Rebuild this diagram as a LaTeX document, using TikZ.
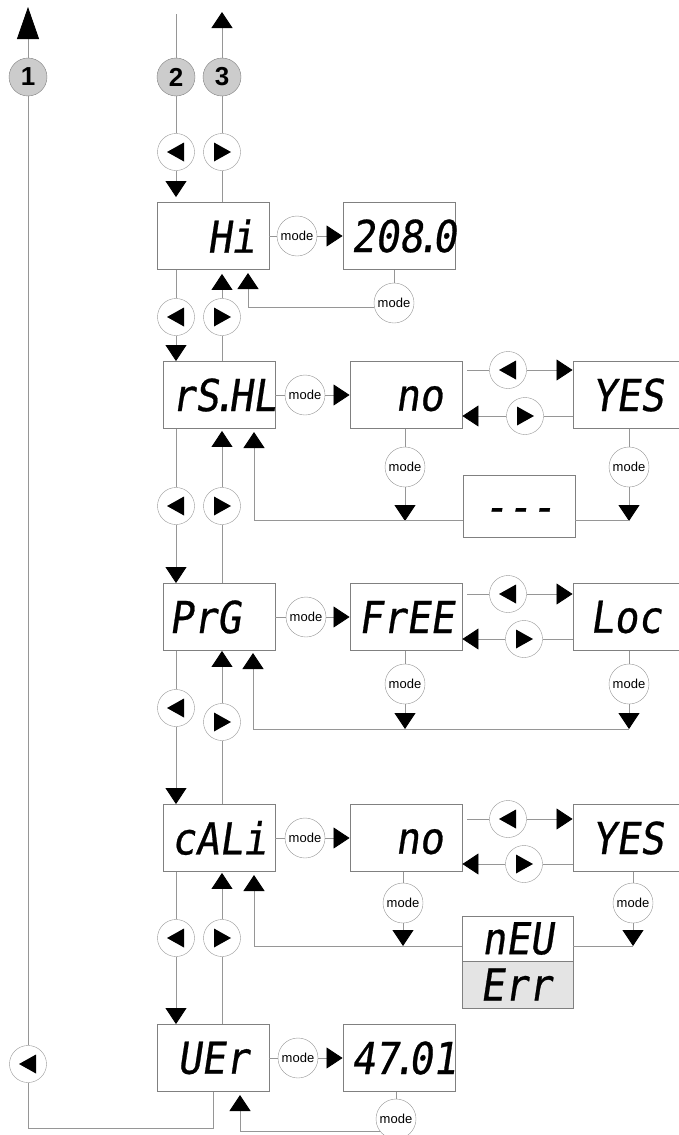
\documentclass[tikz,border=0pt]{standalone}
\usepackage{fontspec}
\setsansfont{Liberation Sans}
\newfontfamily\segfont{DejaVu Sans Mono}[FakeSlant=0.15,FakeStretch=0.9,FakeBold=0.6]
\usetikzlibrary{arrows.meta}
\definecolor{lg}{RGB}{150,150,150}
\definecolor{bg}{RGB}{128,128,128}
\definecolor{ng}{RGB}{204,204,204}
\definecolor{eg}{RGB}{228,228,228}
\newcommand\segdot{\kern-7pt.\kern-7pt}
\begin{document}
\begin{tikzpicture}[x=1pt,y=-1pt,
  ln/.style={draw=lg, line width=0.8pt},
  arr/.style={ln, -{Triangle[length=16pt,width=21pt,color=black,fill=black]}},
  bigarr/.style={ln, -{Triangle[length=32pt,width=22pt,color=black,fill=black]}},
  disp/.style={draw=bg, line width=0.9pt, fill=white, minimum width=112pt, minimum height=67pt, inner sep=0pt, text width=96pt, align=center, font=\segfont\fontsize{44}{44}\selectfont},
  num/.style={circle, draw=bg, fill=ng, minimum size=38pt, inner sep=0pt, font=\sffamily\bfseries\fontsize{26}{26}\selectfont},
  modeb/.style={circle, draw=lg, fill=white, minimum size=40pt, inner sep=0pt, font=\sffamily\fontsize{13}{13}\selectfont},
  btn/.style={circle, draw=lg, fill=white, minimum size=37pt, inner sep=0pt},
  btnl/.style={btn, path picture={\fill[black] ([xshift=-9pt]path picture bounding box.center) -- ++(17pt,9.5pt) -- ++(0pt,-19pt) -- cycle;}},
  btnr/.style={btn, path picture={\fill[black] ([xshift=9pt]path picture bounding box.center) -- ++(-17pt,9.5pt) -- ++(0pt,-19pt) -- cycle;}},
]
\useasboundingbox (0,0) rectangle (679,1135);
% column tops
\node[num] (n1) at (28,77) {1};
\node[num] (n2) at (176,77) {2};
\node[num] (n3) at (222,77) {3};
\coordinate (t1) at (28,7);
\coordinate (t2) at (176,14);
\coordinate (t3) at (222,12);
\node[btnl] (L0) at (176,152) {};
\node[btnr] (R0) at (222,152) {};
% Hi row
\node[disp, text width=84pt, align=right] (Hi) at (213,236) {\vphantom{H}Hi};
\node[modeb] (mHi) at (297,236) {mode};
\node[disp] (v208) at (399,236) {\vphantom{H}208\segdot0};
\node[modeb] (m208) at (394,303) {mode};
\coordinate (tHi) at (248,273);
\node[btnl] (L1) at (176,317) {};
\node[btnr] (R1) at (222,317) {};
% rS row
\node[disp] (rS) at (219,395) {rS\segdot HL};
\node[modeb] (mrS) at (305,395) {mode};
\node[disp, text width=74pt, align=right] (no1) at (406,395) {\vphantom{H}no};
\node[disp, text width=74pt, align=left] (yes1) at (629,395) {YES};
\coordinate (s1) at (467,370);
\node[btnl] (Lr1) at (508,370) {};
\node[btnr] (Rr1) at (525,416) {};
\node[modeb] (mno1) at (405,467) {mode};
\node[modeb] (myes1) at (629,467) {mode};
\node[disp, minimum height=62pt] (dash) at (519,506) {\vphantom{H}-\kern0pt-\kern0pt-};
\coordinate (a1) at (405,521);
\coordinate (b1) at (629,521);
\coordinate (y1) at (0,520);
\coordinate (tr1) at (254,432);
\node[btnl] (L2) at (176,506) {};
\node[btnr] (R2) at (222,506) {};
% PrG row
\node[disp, text width=100pt, align=left] (PrG) at (219,617) {PrG};
\node[modeb] (mPrG) at (306,617) {mode};
\node[disp] (FrEE) at (406,617) {FrEE};
\node[disp, text width=78pt, align=left] (Loc) at (629,617) {Loc};
\coordinate (s2) at (467,594);
\node[btnl] (Lr2) at (508,594) {};
\node[btnr] (Rr2) at (524,639) {};
\node[modeb] (mFrEE) at (405,684) {mode};
\node[modeb] (mLoc) at (629,684) {mode};
\coordinate (a2) at (405,729);
\coordinate (b2) at (629,729);
\coordinate (tr2) at (253,653);
\node[btnl] (L3) at (176,708) {};
\node[btnr] (R3) at (222,722) {};
% cAL row
\node[disp] (cAL) at (219,838) {cALi};
\node[modeb] (mcAL) at (305,838) {mode};
\node[disp, text width=74pt, align=right] (no2) at (406,838) {\vphantom{H}no};
\node[disp, text width=74pt, align=left] (yes2) at (629,838) {YES};
\coordinate (s3) at (467,819);
\node[btnl] (Lr3) at (508,819) {};
\node[btnr] (Rr3) at (524,864) {};
\node[modeb] (mno2) at (403,903) {mode};
\node[modeb] (myes2) at (633,903) {mode};
\node[disp, minimum width=111pt, minimum height=45pt] (nEU) at (517.5,938.5) {nEU};
\node[disp, minimum width=111pt, minimum height=47pt, fill=eg, text width=75pt, align=left] (Err) at (517.5,984.5) {Err};
\coordinate (a3) at (403,946);
\coordinate (b3) at (633,946);
\coordinate (y3) at (0,946);
\coordinate (tr3) at (254,875);
\node[btnl] (L4) at (176,938) {};
\node[btnr] (R4) at (222,938) {};
% VEr row
\node[disp] (UEr) at (213,1058) {UEr};
\node[modeb] (mUEr) at (298,1058) {mode};
\node[disp] (v47) at (399,1058) {47\segdot01};
\node[modeb] (m47) at (396,1119) {mode};
\coordinate (tr4) at (240,1095);
\node[btnl] (L5) at (28,1064) {};
\coordinate (c5) at (213,1128);
% connectors top
\draw[bigarr] (n1) -- (t1);
\draw[ln] (t2) -- (n2);
\draw[arr] (n3) -- (t3);
\draw[ln] (n2) -- (L0);
\draw[ln] (n3) -- (R0);
\draw[arr, shorten >=5pt] (L0) -- (Hi.north -| L0);
\draw[ln] (R0) -- (Hi.north -| R0);
% Hi
\draw[ln] (Hi) -- (mHi);
\draw[arr] (mHi) -- (v208);
\draw[ln] (v208.south -| m208) -- (m208);
\draw[arr] (m208.194) -| (tHi);
\draw[ln] (Hi.south -| L1) -- (L1);
\draw[arr] (L1) -- (rS.north -| L1);
\draw[arr, shorten >=4pt] (R1) -- (Hi.south -| R1);
\draw[ln] (rS.north -| R1) -- (R1);
% rS
\draw[ln] (rS) -- (mrS);
\draw[arr] (mrS) -- (no1);
\draw[ln] (s1) -- (Lr1);
\draw[arr] (Lr1) -- (yes1.west |- Lr1);
\draw[ln] (yes1.west |- Rr1) -- (Rr1);
\draw[arr] (Rr1) -- (no1.east |- Rr1);
\draw[ln] (no1.south -| mno1) -- (mno1);
\draw[arr] (mno1) -- (a1);
\draw[ln] (yes1.south -| myes1) -- (myes1);
\draw[arr] (myes1) -- (b1);
\draw[arr] (dash.west |- y1) -| (tr1);
\draw[ln] (dash.east |- y1) -- (b1 |- y1);
\draw[ln] (rS.south -| L2) -- (L2);
\draw[arr] (L2) -- (PrG.north -| L2);
\draw[arr, shorten >=2pt] (R2) -- (rS.south -| R2);
\draw[ln] (PrG.north -| R2) -- (R2);
% PrG
\draw[ln] (PrG) -- (mPrG);
\draw[arr] (mPrG) -- (FrEE);
\draw[ln] (s2) -- (Lr2);
\draw[arr] (Lr2) -- (Loc.west |- Lr2);
\draw[ln] (Loc.west |- Rr2) -- (Rr2);
\draw[arr] (Rr2) -- (FrEE.east |- Rr2);
\draw[ln] (FrEE.south -| mFrEE) -- (mFrEE);
\draw[arr] (mFrEE) -- (a2);
\draw[ln] (Loc.south -| mLoc) -- (mLoc);
\draw[arr] (mLoc) -- (b2);
\draw[arr] (b2) -| (tr2);
\draw[ln] (PrG.south -| L3) -- (L3);
\draw[arr] (L3) -- (cAL.north -| L3);
\draw[arr] (R3) -- (PrG.south -| R3);
\draw[ln] (cAL.north -| R3) -- (R3);
% cAL
\draw[ln] (cAL) -- (mcAL);
\draw[arr] (mcAL) -- (no2);
\draw[ln] (s3) -- (Lr3);
\draw[arr] (Lr3) -- (yes2.west |- Lr3);
\draw[ln] (yes2.west |- Rr3) -- (Rr3);
\draw[arr] (Rr3) -- (no2.east |- Rr3);
\draw[ln] (no2.south -| mno2) -- (mno2);
\draw[arr] (mno2) -- (a3);
\draw[ln] (yes2.south -| myes2) -- (myes2);
\draw[arr] (myes2) -- (b3);
\draw[arr] (nEU.west |- y3) -| (tr3);
\draw[ln] (nEU.east |- y3) -- (b3);
\draw[ln] (cAL.south -| L4) -- (L4);
\draw[arr] (L4) -- (UEr.north -| L4);
\draw[arr, shorten >=1pt] (R4) -- (cAL.south -| R4);
\draw[ln] (UEr.north -| R4) -- (R4);
% VEr
\draw[ln] (UEr) -- (mUEr);
\draw[arr] (mUEr) -- (v47);
\draw[ln] (v47.south -| m47) -- (m47);
\draw[arr] (m47.217) -| (tr4);
\draw[ln] (n1) -- (L5);
\draw[ln] (L5) |- (c5) -- (UEr.south -| c5);
\end{tikzpicture}
\end{document}
